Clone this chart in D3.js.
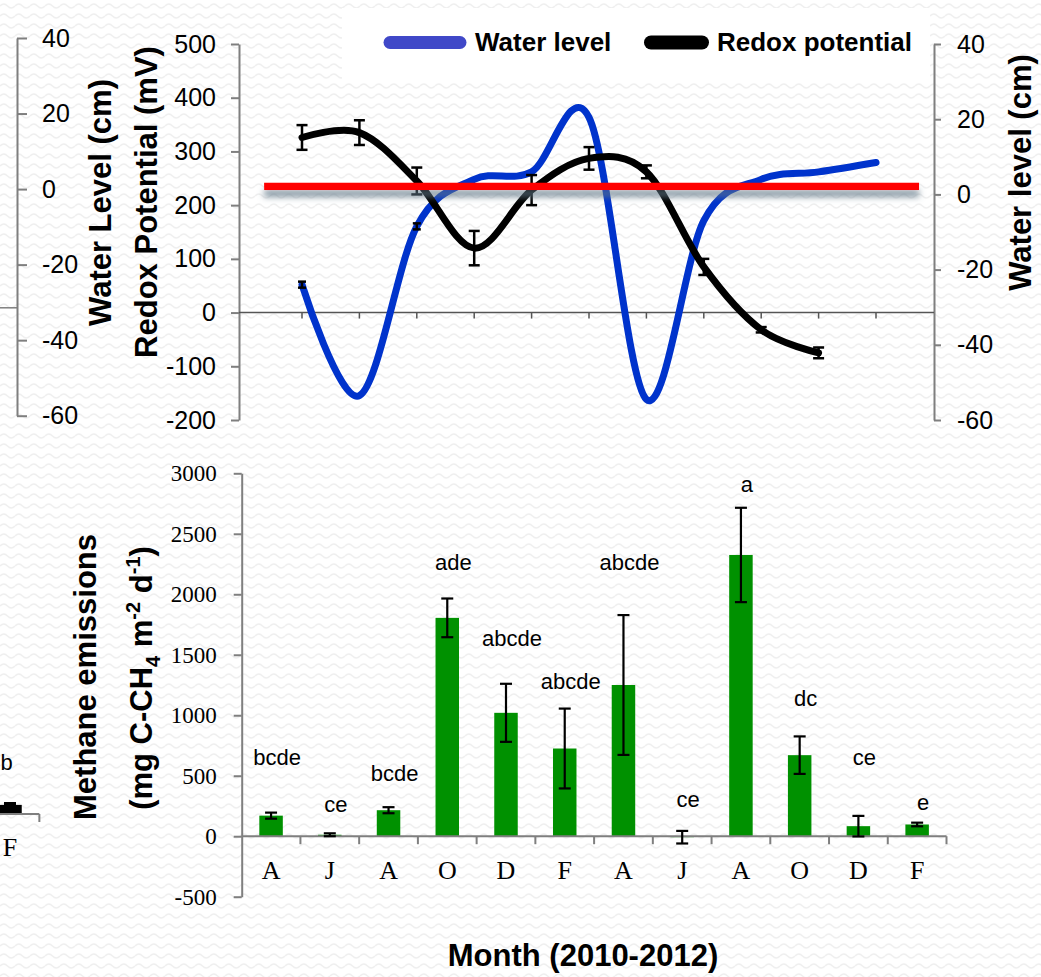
<!DOCTYPE html>
<html>
<head>
<meta charset="utf-8">
<script src="https://cdn.jsdelivr.net/npm/d3@7"></script>
<style>
  body { margin: 0; background: #fff; }
  svg { display: block; }
  text { font-family: "Liberation Sans", Arial, sans-serif; fill: #000; }
</style>
</head>
<body>
<svg id="chart" width="1041" height="977"></svg>
<script>
// ---- data ----
const months = ["A", "J", "A", "O", "D", "F", "A", "J", "A", "O", "D", "F"];
const waterLevel = [-24, -53.5, -8.5, 4, 6, 20.5, -54.5, -7, 4, 6, 8.5];   // cm
const waterErr = [0.8, 0, 0.8, 0, 0, 0, 0, 0, 0, 0, 0];
const redox = [326, 335, 245, 120, 228, 287, 262, 85, -32, -75];           // mV
const redoxErr = [23, 23, 25, 32, 28, 21, 12, 15, 5, 10];
const redoxRef = 235;                 // red reference line (mV)
const redoxRefSpan = [-0.66, 10.75];  // in month index units
const methane = [170, 12, 215, 1805, 1020, 725, 1250, -8, 2325, 670, 83, 97];
const methaneErr = [25, 12, 25, 160, 240, 330, 578, 52, 390, 155, 85, 15];
const letters = ["bcde", "ce", "bcde", "ade", "abcde", "abcde", "abcde", "ce", "a", "dc", "ce", "e"];
const letterAt = [653, 262, 516, 2265, 1634, 1282, 2265, 303, 2907, 1138, 653, 278];
const redoxTicks = [-200, -100, 0, 100, 200, 300, 400, 500];
const waterTicks = [-60, -40, -20, 0, 20, 40];
const methaneTicks = [-500, 0, 500, 1000, 1500, 2000, 2500, 3000];
// neighbouring panel, cut off at the left edge of the figure
const prevMonths = ["F"];
const prevMethane = [75];
const prevErr = [15];
const prevLetters = ["b"];
const prevLetterAt = [430];

const svg = d3.select("#chart");
const defs = svg.append("defs");

// faint paper texture
const pat = defs.append("pattern").attr("id", "paper").attr("width", 15).attr("height", 10)
  .attr("patternUnits", "userSpaceOnUse");
pat.append("rect").attr("width", 15).attr("height", 10).attr("fill", "#fff");
pat.append("path").attr("d", "M0 6 Q3.75 2 7.5 6 T15 6").attr("fill", "none")
  .attr("stroke", "#efefef").attr("stroke-width", 1.4);
svg.append("rect").attr("width", 1041).attr("height", 977).attr("fill", "url(#paper)");

const shadow = defs.append("filter").attr("id", "shadow").attr("filterUnits", "userSpaceOnUse")
  .attr("x", 0).attr("y", 0).attr("width", 1041).attr("height", 977);
shadow.append("feDropShadow").attr("dx", 0).attr("dy", 7).attr("stdDeviation", 3)
  .attr("flood-color", "#5d7585").attr("flood-opacity", 0.75);

const plain = d => String(d);

function styleAxis(g, size, family) {
  g.attr("font-size", null).attr("font-family", null);
  g.select(".domain").attr("stroke", "#7f7f7f").attr("stroke-width", 2);
  g.selectAll(".tick line").attr("stroke", "#7f7f7f").attr("stroke-width", 2);
  g.selectAll(".tick text").style("font-size", size + "px").style("font-family", family).attr("fill", "#000");
}

function vTitle(x, y, txt) {
  return svg.append("text").attr("transform", `translate(${x},${y}) rotate(-90)`)
    .attr("text-anchor", "middle").attr("dy", "0.35em")
    .style("font-size", "31px").style("font-weight", "bold").text(txt);
}

// ================= TOP: water level & redox =================
const xTop = d3.scaleLinear().domain([0, 11]).range([302, 933.4]);
const yR = d3.scaleLinear().domain([-200, 500]).range([420, 44]);
const yW = d3.scaleLinear().domain([-60, 40]).range([420, 44]);
const yWprev = d3.scaleLinear().domain([-60, 40]).range([415.7, 38]);
const yRprev = d3.scaleLinear().domain([-200, 500]).range([415.7, 38]);

// legend box
svg.append("rect").attr("x", 342).attr("y", 8).attr("width", 588).attr("height", 72).attr("fill", "#fff");
const legend = [
  { name: "Water level", color: "#4048c8", x0: 390, x1: 460, w: 13, tx: 475 },
  { name: "Redox potential", color: "#000", x0: 651, x1: 702, w: 14, tx: 717 }
];
legend.forEach(l => {
  svg.append("line").attr("x1", l.x0).attr("x2", l.x1).attr("y1", 42.5).attr("y2", 42.5)
    .attr("stroke", l.color).attr("stroke-width", l.w).attr("stroke-linecap", "round");
  svg.append("text").attr("x", l.tx).attr("y", 51).style("font-size", "26px").style("font-weight", "bold")
    .attr("fill", "#0c0c30").text(l.name);
});

// left (cut-off) panel zero line + its water level axis
svg.append("line").attr("x1", 0).attr("x2", 17).attr("y1", yRprev(0)).attr("y2", yRprev(0))
  .attr("stroke", "#7f7f7f").attr("stroke-width", 1.5);
svg.append("g").attr("transform", "translate(17,0)")
  .call(d3.axisRight(yWprev).tickValues(waterTicks).tickFormat(plain).tickSize(10).tickSizeOuter(0).tickPadding(15))
  .call(g => styleAxis(g, 25, "Liberation Sans"));

vTitle(100, 202.5, "Water Level (cm)");
vTitle(146.5, 202, "Redox Potential (mV)");
vTitle(1020, 172.5, "Water level (cm)");

svg.append("g").attr("transform", "translate(239,0)")
  .call(d3.axisLeft(yR).tickValues(redoxTicks).tickFormat(plain).tickSize(8).tickSizeOuter(0).tickPadding(15))
  .call(g => styleAxis(g, 25, "Liberation Sans"));
svg.append("g").attr("transform", "translate(934,0)")
  .call(d3.axisRight(yW).tickValues(waterTicks).tickFormat(plain).tickSize(7).tickSizeOuter(0).tickPadding(16))
  .call(g => styleAxis(g, 25, "Liberation Sans"));

// zero line with category ticks
svg.append("line").attr("x1", 239).attr("x2", 934).attr("y1", yR(0)).attr("y2", yR(0))
  .attr("stroke", "#555").attr("stroke-width", 1.5);
svg.append("g").selectAll("line").data(waterLevel).join("line")
  .attr("x1", (d, i) => xTop(i)).attr("x2", (d, i) => xTop(i))
  .attr("y1", yR(0)).attr("y2", yR(0) + 6).attr("stroke", "#555").attr("stroke-width", 1.5);

const smooth = d3.curveCatmullRom.alpha(0);
svg.append("path").datum(waterLevel)
  .attr("d", d3.line().x((d, i) => xTop(i)).y(d => yW(d)).curve(smooth))
  .attr("fill", "none").attr("stroke", "#0033cc").attr("stroke-width", 7).attr("stroke-linecap", "round");
svg.append("path").datum(redox)
  .attr("d", d3.line().x((d, i) => xTop(i)).y(d => yR(d)).curve(smooth))
  .attr("fill", "none").attr("stroke", "#000").attr("stroke-width", 7).attr("stroke-linecap", "round");

function errBars(g, xs, lo, hi, cap) {
  xs.forEach((x, i) => {
    if (lo[i] === hi[i]) return;
    g.append("line").attr("x1", x).attr("x2", x).attr("y1", lo[i]).attr("y2", hi[i]);
    g.append("line").attr("x1", x - cap / 2).attr("x2", x + cap / 2).attr("y1", lo[i]).attr("y2", lo[i]);
    g.append("line").attr("x1", x - cap / 2).attr("x2", x + cap / 2).attr("y1", hi[i]).attr("y2", hi[i]);
  });
}
const eTop = svg.append("g").attr("stroke", "#000").attr("stroke-width", 2.5);
errBars(eTop, redox.map((d, i) => xTop(i)), redox.map((d, i) => yR(d - redoxErr[i])),
  redox.map((d, i) => yR(d + redoxErr[i])), 11);
errBars(eTop, waterLevel.map((d, i) => xTop(i)), waterLevel.map((d, i) => yW(d - waterErr[i])),
  waterLevel.map((d, i) => yW(d + waterErr[i])), 8);

// red reference line with its shadow
svg.append("rect")
  .attr("x", xTop(redoxRefSpan[0])).attr("width", xTop(redoxRefSpan[1]) - xTop(redoxRefSpan[0]))
  .attr("y", yR(redoxRef) - 3.6).attr("height", 7.3)
  .attr("fill", "#ff0000").attr("filter", "url(#shadow)");

// ================= BOTTOM: methane emissions =================
const xB = d3.scaleBand().domain(d3.range(months.length)).range([241.7, 946.5]).paddingInner(0.6).paddingOuter(0.3);
const yM = d3.scaleLinear().domain([-500, 3000]).range([896.7, 473.3]);

svg.append("g").attr("transform", "translate(241.7,0)")
  .call(d3.axisLeft(yM).tickValues(methaneTicks).tickFormat(plain).tickSize(8).tickSizeOuter(0).tickPadding(17))
  .call(g => styleAxis(g, 23, "Liberation Serif"))
  .call(g => g.selectAll(".tick text").style("font-variant-numeric", "oldstyle-nums"));

svg.append("g").selectAll("rect").data(methane).join("rect")
  .attr("x", (d, i) => xB(i)).attr("width", xB.bandwidth())
  .attr("y", d => yM(Math.max(0, d))).attr("height", d => Math.abs(yM(d) - yM(0)))
  .attr("fill", "#009100");

// x axis line, boundary ticks, month labels
svg.append("line").attr("x1", 241.7).attr("x2", 946.5).attr("y1", yM(0)).attr("y2", yM(0))
  .attr("stroke", "#7f7f7f").attr("stroke-width", 2);
svg.append("g").selectAll("line").data(months).join("line")
  .attr("x1", (d, i) => 241.7 + (i + 1) * xB.step()).attr("x2", (d, i) => 241.7 + (i + 1) * xB.step())
  .attr("y1", yM(0)).attr("y2", yM(0) + 8).attr("stroke", "#7f7f7f").attr("stroke-width", 2);
svg.append("g").attr("transform", `translate(0,${yM(0)})`)
  .call(d3.axisBottom(xB).tickFormat(i => months[i]).tickSize(0).tickPadding(24))
  .call(g => { g.select(".domain").remove(); styleAxis(g, 26, "Liberation Serif"); });

const eBot = svg.append("g").attr("stroke", "#000").attr("stroke-width", 2.2);
errBars(eBot, methane.map((d, i) => xB(i) + xB.bandwidth() / 2),
  methane.map((d, i) => yM(d - methaneErr[i])), methane.map((d, i) => yM(d + methaneErr[i])), 12);

svg.append("g").selectAll("text").data(letters).join("text")
  .attr("x", (d, i) => xB(i) + xB.bandwidth() / 2 + 6).attr("y", (d, i) => yM(letterAt[i]))
  .attr("dy", "0.35em").attr("text-anchor", "middle").style("font-size", "22px").text(d => d);

// cut-off neighbour panel on the left
const xP = d3.scaleBand().domain(prevMonths).range([10 - xB.step() / 2, 10 + xB.step() / 2]).paddingInner(0.6).paddingOuter(0.3);
const yP = d3.scaleLinear().domain([0, 3000]).range([814, 814 - (yM(0) - yM(3000))]);
svg.append("g").selectAll("rect").data(prevMethane).join("rect")
  .attr("x", (d, i) => xP(prevMonths[i])).attr("width", xP.bandwidth())
  .attr("y", d => yP(d)).attr("height", d => yP(0) - yP(d)).attr("fill", "#000");
svg.append("line").attr("x1", 0).attr("x2", xP.range()[1]).attr("y1", yP(0)).attr("y2", yP(0))
  .attr("stroke", "#7f7f7f").attr("stroke-width", 2);
svg.append("line").attr("x1", xP.range()[1]).attr("x2", xP.range()[1]).attr("y1", yP(0)).attr("y2", yP(0) + 8)
  .attr("stroke", "#7f7f7f").attr("stroke-width", 2);
errBars(eBot, prevMethane.map((d, i) => xP(prevMonths[i]) + xP.bandwidth() / 2),
  prevMethane.map((d, i) => yP(d)), prevMethane.map((d, i) => yP(d + prevErr[i])), 12);
svg.append("g").selectAll("text").data(prevMonths).join("text")
  .attr("x", d => xP(d) + xP.bandwidth() / 2).attr("y", yP(0) + 33).attr("dy", "0.35em")
  .attr("text-anchor", "middle").style("font-family", "Liberation Serif").style("font-size", "26px").text(d => d);
svg.append("g").selectAll("text").data(prevLetters).join("text")
  .attr("x", (d, i) => xP(prevMonths[i]) + xP.bandwidth() / 2 - 3.5).attr("y", (d, i) => yP(prevLetterAt[i]))
  .attr("dy", "0.35em").attr("text-anchor", "middle").style("font-size", "22px").text(d => d);

// methane axis titles
vTitle(85, 677, "Methane emissions");
const t2 = svg.append("text").attr("transform", "translate(141.5,678) rotate(-90)")
  .attr("text-anchor", "middle").attr("dy", "0.35em")
  .style("font-size", "31px").style("font-weight", "bold");
t2.append("tspan").text("(mg C-CH");
t2.append("tspan").attr("dy", 8).style("font-size", "20px").text("4");
t2.append("tspan").attr("dy", -8).text(" m");
t2.append("tspan").attr("dy", -12).style("font-size", "20px").text("-2");
t2.append("tspan").attr("dy", 12).text(" d");
t2.append("tspan").attr("dy", -12).style("font-size", "20px").text("-1");
t2.append("tspan").attr("dy", 12).text(")");

svg.append("text").attr("x", 583).attr("y", 966).attr("text-anchor", "middle")
  .style("font-size", "31px").style("font-weight", "bold").text("Month (2010-2012)");
</script>
</body>
</html>
